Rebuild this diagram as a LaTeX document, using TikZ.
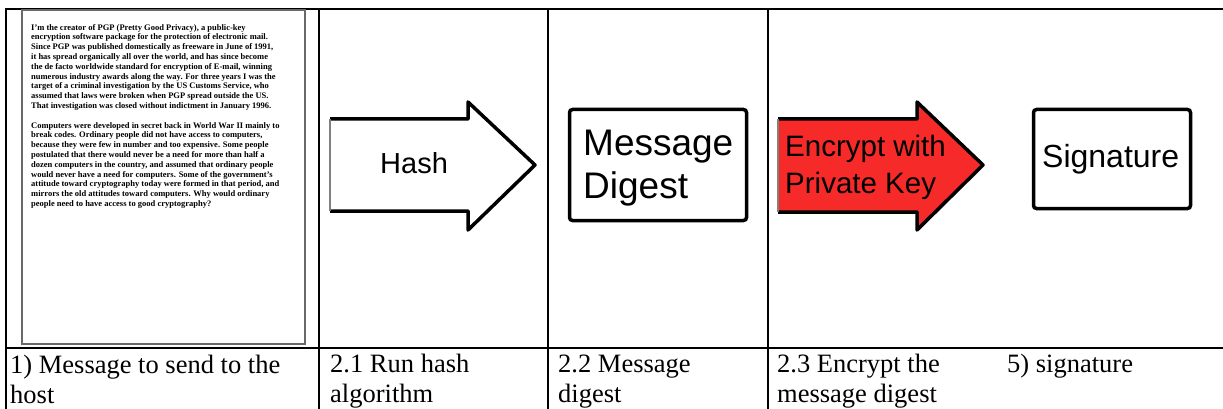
\documentclass[tikz,border=0pt]{standalone}
\usepackage{fontspec}
\setmainfont{Liberation Serif}
\newfontfamily\arialfont{Liberation Sans}
\definecolor{keyred}{RGB}{247,42,42}
\definecolor{framegray}{RGB}{105,105,105}
\begin{document}
\begin{tikzpicture}[x=1pt,y=-1pt,
  rule/.style={line width=2pt,black},
  outline/.style={draw=black,line width=3.5pt,line join=round},
  stepbox/.style={draw=black,line width=3.5pt,rounded corners=3pt,fill=white,inner sep=0pt},
  caption/.style={font=\fontsize{26.5}{30}\selectfont,anchor=base west,inner sep=0pt},
  sans/.style={font=\arialfont,anchor=base west,inner sep=0pt},
  para/.style={font=\fontsize{8.5}{9.8}\selectfont\bfseries,align=left,anchor=north west,inner sep=0pt}]
\useasboundingbox (0,0) rectangle (1223,409);

% table rules
\draw[rule] (6,9) -- (1223,9);
\draw[rule] (6,348) -- (1223,348);
\draw[rule] (6,8) -- (6,409);
\draw[rule] (319,9) -- (319,409);
\draw[rule] (548,9) -- (548,409);
\draw[rule] (768,9) -- (768,409);

% the message page
\draw[framegray,line width=2pt] (22,10) rectangle (305,344);
\node[para] (p1) at (31,24) {I'm the creator of PGP (Pretty Good Privacy), a public-key\\
encryption software package for the protection of electronic mail.\\
Since PGP was published domestically as freeware in June of 1991,\\
it has spread organically all over the world, and has since become\\
the de facto worldwide standard for encryption of E-mail, winning\\
numerous industry awards along the way. For three years I was the\\
target of a criminal investigation by the US Customs Service, who\\
assumed that laws were broken when PGP spread outside the US.\\
That investigation was closed without indictment in January 1996.};
\node[para] (p2) at (31,122) {Computers were developed in secret back in World War II mainly to\\
break codes. Ordinary people did not have access to computers,\\
because they were few in number and too expensive. Some people\\
postulated that there would never be a need for more than half a\\
dozen computers in the country, and assumed that ordinary people\\
would never have a need for computers. Some of the government's\\
attitude toward cryptography today were formed in that period, and\\
mirrors the old attitudes toward computers. Why would ordinary\\
people need to have access to good cryptography?};

% hash arrow
\fill[white] (330,119) -- (468,119) -- (468,102) -- (535,165) -- (468,230) -- (468,211) -- (330,211) -- cycle;
\draw[outline] (330,119) -- (468,119) -- (468,102) -- (535,165) -- (468,230) -- (468,211) -- (330,211);
\draw[gray,line width=1.5pt] (330,119) -- (330,211);
\node[sans,font=\arialfont\fontsize{29}{34}\selectfont] (hash) at (380,173) {Hash};

% message digest
\node[stepbox,minimum width=177pt,minimum height=111pt] (digestbox) at (658,165) {};
\node[sans,font=\arialfont\fontsize{37}{44}\selectfont] (msg) at (583,155) {Message};
\node[sans,font=\arialfont\fontsize{37}{44}\selectfont] (dig) at (583,198) {Digest};

% encryption arrow
\fill[keyred] (778,119) -- (917,119) -- (917,102) -- (983,165) -- (917,230) -- (917,212) -- (778,212) -- cycle;
\draw[outline] (778,119) -- (917,119) -- (917,102) -- (983,165) -- (917,230) -- (917,212) -- (778,212);
\draw[gray,line width=1.5pt] (778,119) -- (778,212);
\node[sans,font=\arialfont\fontsize{29.5}{36}\selectfont] (enc1) at (785,157) {Encrypt with};
\node[sans,font=\arialfont\fontsize{29.5}{36}\selectfont] (enc2) at (785,193) {Private Key};

% signature
\node[stepbox,minimum width=157pt,minimum height=99pt] (sigbox) at (1112,159) {};
\node[sans,font=\arialfont\fontsize{32}{38}\selectfont] (sig) at (1042,167) {Signature};

% captions
\node[caption] (c1a) at (10,373) {1) Message to send to the};
\node[caption] (c1b) at (10,403) {host};
\node[caption] (c2a) at (330,372) {2.1 Run hash};
\node[caption] (c2b) at (330,402) {algorithm};
\node[caption] (c3a) at (558,372) {2.2 Message};
\node[caption] (c3b) at (558,402) {digest};
\node[caption] (c4a) at (777,372) {2.3 Encrypt the};
\node[caption] (c4b) at (777,402) {message digest};
\node[caption] (c5) at (1007,372) {5) signature};
\end{tikzpicture}
\end{document}
